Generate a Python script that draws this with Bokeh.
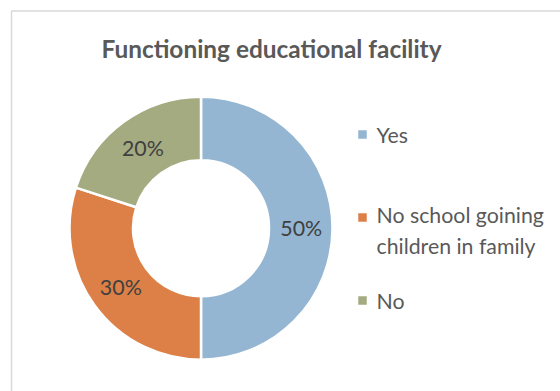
import math
from bokeh.plotting import figure
from bokeh.models import Range1d, ColumnDataSource
from bokeh.core.properties import value
from bokeh.embed import file_html
from bokeh.resources import INLINE

title_text = "Functioning educational facility"
categories = ["Yes", "No school goining\nchildren in family", "No"]
shares = [50, 30, 20]
colors = ["#94B6D2", "#DD8047", "#A5AB81"]

W, H = 560, 391
FONT = "Lato"

p = figure(width=W, height=H, output_backend="svg", toolbar_location=None,
           x_range=Range1d(0, W), y_range=Range1d(0, H), min_border=0)
p.axis.visible = False
p.grid.visible = False
p.outline_line_color = None
p.background_fill_color = "white"
p.border_fill_color = "white"

# chart area border
p.quad(left=[11], right=[W + 20], top=[H - 10.5], bottom=[-20],
       fill_color=None, line_color="#D9D9D9", line_width=1.5)

cx, cy = 200.5, H - 227.7
r_out, r_in = 131.5, 68.0

total = float(sum(shares))
starts, ends, mids = [], [], []
cum = 0.0
for s in shares:
    a0 = math.pi / 2 - 2 * math.pi * cum / total
    cum += s
    a1 = math.pi / 2 - 2 * math.pi * cum / total
    starts.append(a0)
    ends.append(a1)
    mids.append((a0 + a1) / 2)

src = ColumnDataSource(dict(start=starts, end=ends, color=colors,
                            x=[cx] * len(shares), y=[cy] * len(shares)))
p.annular_wedge(x="x", y="y", inner_radius=r_in, outer_radius=r_out,
                start_angle="start", end_angle="end", direction="clock",
                fill_color="color", line_color="white", line_width=2.5, source=src)

r_mid = (r_out + r_in) / 2
lx = [cx + r_mid * math.cos(a) + 0.5 for a in mids]
ly = [cy + r_mid * math.sin(a) for a in mids]
p.text(x=lx, y=ly, text=[f"{s}%" for s in shares], text_align="center",
       text_baseline="middle", text_font=value(FONT), text_font_size="21.4px",
       text_color="#404040")

# title
p.text(x=[271], y=[H - 48], text=[title_text], text_align="center",
       text_baseline="middle", text_font=value(FONT), text_font_style="bold",
       text_font_size="24.4px", text_color="#595959")

# legend
leg_y = [H - 134, H - 230, H - 300]
p.rect(x=[362] * 3, y=[H - 134, H - 217, H - 300], width=8.5, height=8.5,
       fill_color=colors, line_color=None)
p.text(x=[376] * 3, y=leg_y, text=categories, text_align="left",
       text_baseline="middle", text_font=value(FONT), text_font_size="21.3px",
       text_color="#595959", text_line_height=1.2)

open("out.html", "w").write(file_html(p, INLINE))
